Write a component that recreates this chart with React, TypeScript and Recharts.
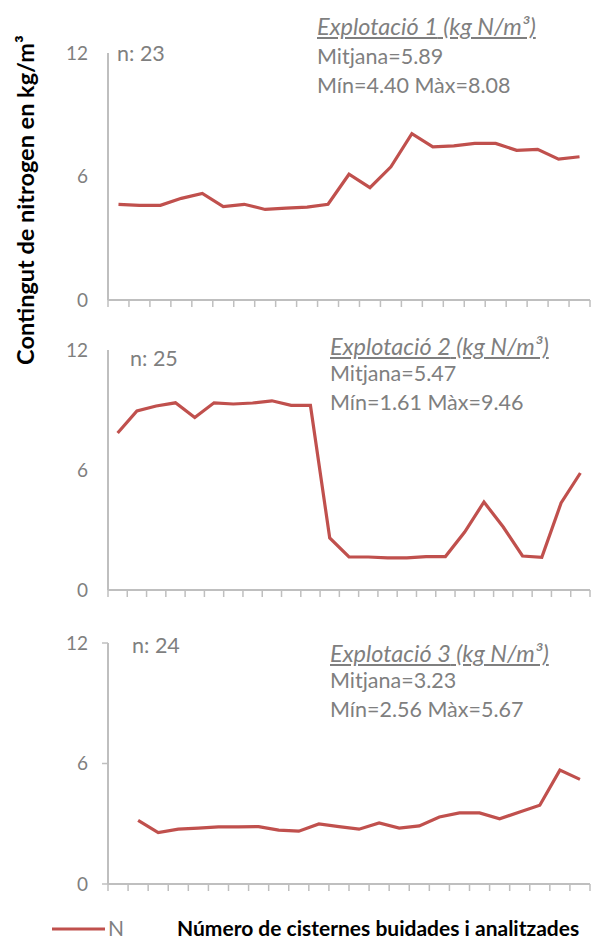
import React from "react";
import { LineChart, Line, XAxis, YAxis } from "recharts";

const RED = "#c0504d";
const AXIS = "#bfbfbf";
const GREY = "#7f7f7f";
const FONT = "Lato, 'Open Sans', sans-serif";

// kg N/m3 per cistern
const farm1 = [
  4.65, 4.6, 4.6, 4.94, 5.18, 4.54, 4.65, 4.4, 4.46, 4.51, 4.65, 6.11, 5.46,
  6.47, 8.08, 7.44, 7.49, 7.61, 7.61, 7.27, 7.32, 6.84, 6.96,
];
const farm2 = [
  7.85, 8.95, 9.2, 9.36, 8.62, 9.36, 9.3, 9.35, 9.46, 9.23, 9.23, 2.6, 1.65,
  1.65, 1.61, 1.61, 1.67, 1.67, 2.9, 4.4, 3.15, 1.7, 1.63, 4.35, 5.85,
];
// first cistern of farm 3 has no value
const farm3 = [
  null, 3.17, 2.56, 2.73, 2.78, 2.84, 2.84, 2.86, 2.68, 2.63, 2.99, 2.86, 2.73,
  3.04, 2.78, 2.89, 3.34, 3.54, 3.54, 3.25, 3.58, 3.92, 5.67, 5.21,
];

const farmNames = ["Explotació 1", "Explotació 2", "Explotació 3"];
const nLabels = ["n: 23", "n: 25", "n: 24"];
const means = ["5.89", "5.47", "3.23"];
const mins = ["4.40", "1.61", "2.56"];
const maxs = ["8.08", "9.46", "5.67"];
const yTicks = [0, 6, 12];

const yTitle = "Contingut de nitrogen en kg/m³";
const xTitle = "Número de cisternes buidades i analitzades";
const seriesName = "N";

// layout of each panel (page coords)
const panels = [
  { values: farm1, top: 0, height: 310, mt: 53, yTickLine: false, nX: 117, nY: 53, noteX: 317, noteY: [26, 56, 85] },
  { values: farm2, top: 310, height: 290, mt: 40, yTickLine: false, nX: 130, nY: 358, noteX: 330, noteY: [346, 373, 402] },
  { values: farm3, top: 600, height: 294, mt: 43, yTickLine: true, nX: 132, nY: 645, noteX: 330, noteY: [653, 680, 709] },
];

function Txt({ x, y, children, style }: any) {
  return (
    <div
      style={{
        position: "absolute",
        left: x,
        top: y - 11,
        height: 22,
        lineHeight: "22px",
        whiteSpace: "nowrap",
        color: GREY,
        fontFamily: FONT,
        fontSize: 21.5,
        ...style,
      }}
    >
      {children}
    </div>
  );
}

function Panel({ values, top, height, mt, yTickLine }: any) {
  const rows = values.map((v: number | null, k: number) => ({ i: k + 1, v }));
  const n = values.length;
  const bounds = Array.from({ length: n + 1 }, (_, k) => k + 0.5);
  return (
    <div style={{ position: "absolute", left: 0, top }}>
      <LineChart
        width={608}
        height={height}
        data={rows}
        margin={{ top: mt, right: 18, left: 0, bottom: 0 }}
      >
        <XAxis
          type="number"
          dataKey="i"
          domain={[0.5, n + 0.5]}
          ticks={bounds}
          interval={0}
          tickFormatter={() => ""}
          tickSize={7}
          height={10}
          axisLine={{ stroke: AXIS, strokeWidth: 2 }}
          tickLine={{ stroke: AXIS, strokeWidth: 1.5 }}
        />
        <YAxis
          type="number"
          domain={[0, 12]}
          ticks={yTicks}
          interval={0}
          width={108}
          tickSize={6}
          tickMargin={14}
          tickLine={yTickLine ? { stroke: AXIS, strokeWidth: 1.5 } : false}
          axisLine={{ stroke: AXIS, strokeWidth: 2 }}
          tick={{ fill: GREY, fontSize: 19, fontFamily: FONT }}
        />
        <Line
          dataKey="v"
          stroke={RED}
          strokeWidth={3.2}
          dot={false}
          connectNulls={false}
          isAnimationActive={false}
        />
      </LineChart>
    </div>
  );
}

export default function App() {
  return (
    <div
      style={{
        position: "absolute",
        left: 0,
        top: 0,
        width: 608,
        height: 941,
        background: "#fff",
        fontFamily: FONT,
      }}
    >
      {panels.map((p, k) => (
        <React.Fragment key={k}>
          <Panel {...p} />
          <Txt x={p.nX} y={p.nY}>
            {nLabels[k]}
          </Txt>
          <Txt
            x={p.noteX}
            y={p.noteY[0]}
            style={{
              fontStyle: "italic",
              textDecoration: "underline",
              fontSize: 23.5,
            }}
          >
            {farmNames[k]} (kg N/m³)
          </Txt>
          <Txt x={p.noteX} y={p.noteY[1]}>
            Mitjana={means[k]}
          </Txt>
          <Txt x={p.noteX} y={p.noteY[2]}>
            Mín={mins[k]} Màx={maxs[k]}
          </Txt>
        </React.Fragment>
      ))}

      {/* y title */}
      <svg
        width={50}
        height={400}
        style={{ position: "absolute", left: 0, top: 0 }}
      >
        <text
          x={25}
          y={200}
          transform="rotate(-90 25 200)"
          textAnchor="middle"
          dominantBaseline="central"
          fontFamily={FONT}
          fontWeight="bold"
          fontSize={23.5}
          fill="#000"
        >
          {yTitle}
        </text>
      </svg>

      {/* legend */}
      <svg
        width={60}
        height={10}
        style={{ position: "absolute", left: 50, top: 924 }}
      >
        <line x1={2} y1={5} x2={55} y2={5} stroke={RED} strokeWidth={3} />
      </svg>
      <Txt x={108} y={928} style={{ fontSize: 21 }}>
        {seriesName}
      </Txt>
      <Txt
        x={177}
        y={928}
        style={{ color: "#000", fontWeight: "bold", fontSize: 21 }}
      >
        {xTitle}
      </Txt>
    </div>
  );
}
